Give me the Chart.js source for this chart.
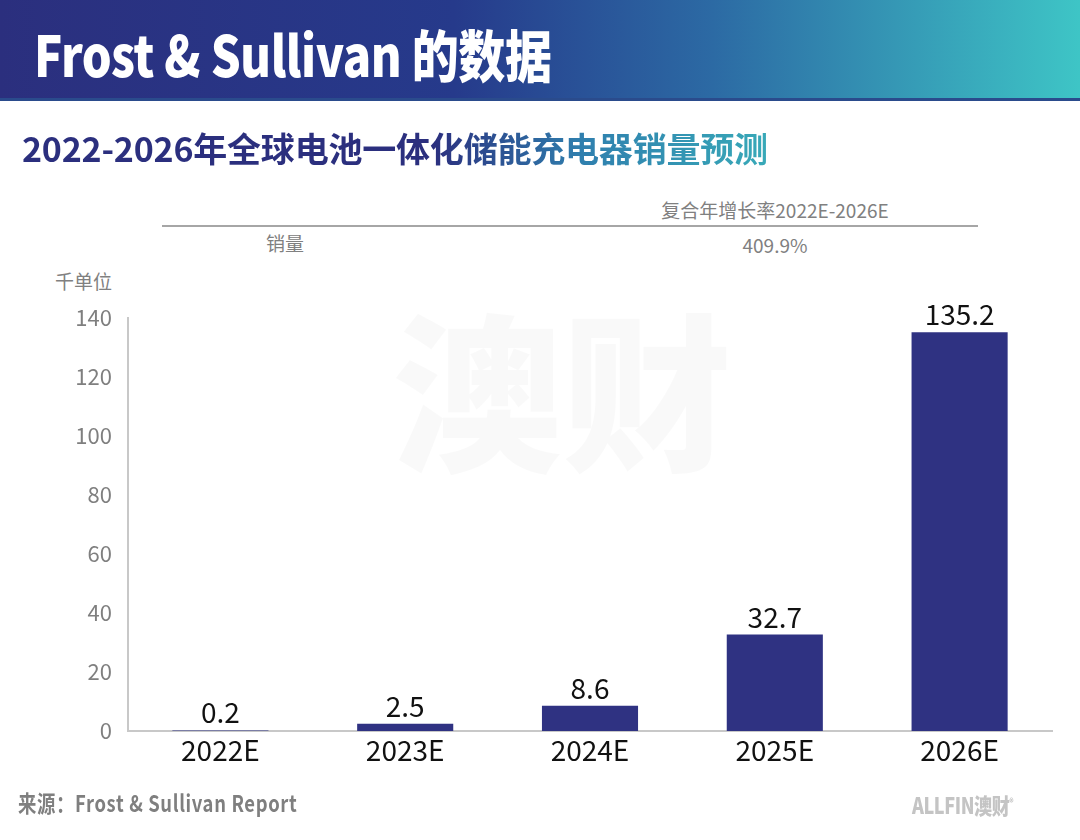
<!DOCTYPE html>
<html>
<head>
<meta charset="utf-8">
<script src="https://cdn.jsdelivr.net/npm/chart.js@4/dist/chart.umd.min.js"></script>
<style>
    body { margin:0; width:1080px; height:840px; background:#fff; position:relative; overflow:hidden;
           font-family:"Noto Sans CJK SC","Noto Sans",sans-serif; }
    .abs { position:absolute; white-space:nowrap; }
    #header { left:0; top:0; width:1080px; height:98px;
              background:linear-gradient(90deg,#2b2f7e 0%,#263a8b 42%,#2c6aa4 66%,#3ec5c6 100%);
              border-bottom:3px solid #2a4b8c; }
    #header span { position:absolute; left:34px; top:25px; color:#fff; font-size:56px; font-weight:900;
                   line-height:1; letter-spacing:-0.5px; transform:scaleX(0.84); transform-origin:left; }
    #title { left:22px; top:128px; font-size:34px; font-weight:700; line-height:1.2; letter-spacing:-0.2px;
             background:linear-gradient(90deg,#2b2f7e 0%,#2b2f7e 55%,#2f7fae 75%,#38a9b8 100%);
             -webkit-background-clip:text; background-clip:text; color:transparent; }
    .gray { color:#808080; font-size:19px; line-height:1; }
    #rule { left:162px; top:225px; width:816px; height:2px; background:#a6a6a6; }
    .wm { color:rgba(0,0,0,0.025); font-weight:900; line-height:1; }
    #chartBox { left:0; top:280px; width:1080px; height:491px; }
</style>
</head>
<body>
<div id="header" class="abs"><span>Frost &amp; Sullivan 的数据</span></div>
<div id="title" class="abs">2022-2026年全球电池一体化储能充电器销量预测</div>

<!-- TABLA CAGR -->
<div class="abs gray" style="left:775px;top:200px;transform:translateX(-50%);">复合年增长率2022E-2026E</div>
<div id="rule" class="abs"></div>
<div class="abs gray" style="left:285px;top:233px;transform:translateX(-50%);">销量</div>
<div class="abs gray" style="left:775px;top:235px;transform:translateX(-50%);">409.9%</div>
<div class="abs gray" style="left:55px;top:271px;">千单位</div>

<!-- MARCA DE AGUA -->
<div class="abs wm" style="left:392px;top:300px;font-size:170px;">澳财</div>
<div class="abs wm" style="left:455px;top:495px;font-size:48px;">ALLFIN<sup style="font-size:20px">®</sup></div>
<div class="abs wm" style="left:395px;top:590px;font-size:30px;letter-spacing:12px;">肯林集团旗下企业</div>

<div id="chartBox" class="abs"><canvas id="ventas"></canvas></div>

<!-- PIE -->
<div class="abs" style="left:18px;top:785px;color:#7f7f7f;font-size:23px;font-weight:700;transform:scaleX(0.8);transform-origin:left;letter-spacing:0.8px;">来源：Frost &amp; Sullivan Report</div>
<div class="abs" style="left:912px;top:788px;color:#c4c4c4;font-size:22px;font-weight:900;transform:scaleX(0.82);transform-origin:left;letter-spacing:-0.5px;">ALLFIN澳财<sup style="font-size:10px">®</sup></div>

<script>
//DATOS
const years = ['2022E', '2023E', '2024E', '2025E', '2026E'];
const sales = [0.2, 2.5, 8.6, 32.7, 135.2];
const yTicks = [0, 20, 40, 60, 80, 100, 120, 140];

//ETIQUETAS SOBRE BARRAS
const barLabels = {
    id: 'barLabels',
    afterDatasetsDraw(chart) {
        const ctx = chart.ctx;
        const meta = chart.getDatasetMeta(0);
        ctx.save();
        ctx.font = '28px "Noto Sans CJK SC", "Noto Sans", sans-serif';
        ctx.fillStyle = '#111';
        ctx.textAlign = 'center';
        ctx.textBaseline = 'alphabetic';
        meta.data.forEach((bar, i) => {
            ctx.fillText(String(sales[i]), bar.x, bar.y - 7);
        });
        ctx.restore();
    }
};

const chartVentas = new Chart(document.getElementById('ventas').getContext('2d'), {
    type: 'bar',
    plugins: [barLabels],
    data: {
        labels: years,
        datasets: [{
            data: sales,
            backgroundColor: '#2f3282',
            categoryPercentage: 1,
            barPercentage: 0.52,
        }]
    },
    options: {
        responsive: true,
        maintainAspectRatio: false,
        animation: false,
        layout: { padding: { left: 0, right: 28, top: 38, bottom: 0 } },
        plugins: {
            legend: { display: false },
            tooltip: { enabled: false },
        },
        scales: {
            x: {
                grid: { display: false, drawTicks: false },
                border: { color: '#c8c8c8', width: 2 },
                ticks: { color: '#111', padding: 3, font: { size: 28, family: '"Noto Sans CJK SC", "Noto Sans", sans-serif' } },
                afterFit: (s) => { s.height = 40; },
            },
            y: {
                min: 0,
                max: 140,
                afterBuildTicks: (s) => { s.ticks = yTicks.map(v => ({ value: v })); },
                grid: { display: false, drawTicks: false },
                border: { color: '#c8c8c8', width: 2 },
                ticks: { color: '#7f7f7f', padding: 16, font: { size: 22, family: '"Noto Sans CJK SC", "Noto Sans", sans-serif' } },
                afterFit: (s) => { s.width = 128; },
            }
        }
    }
});
</script>
</body>
</html>
